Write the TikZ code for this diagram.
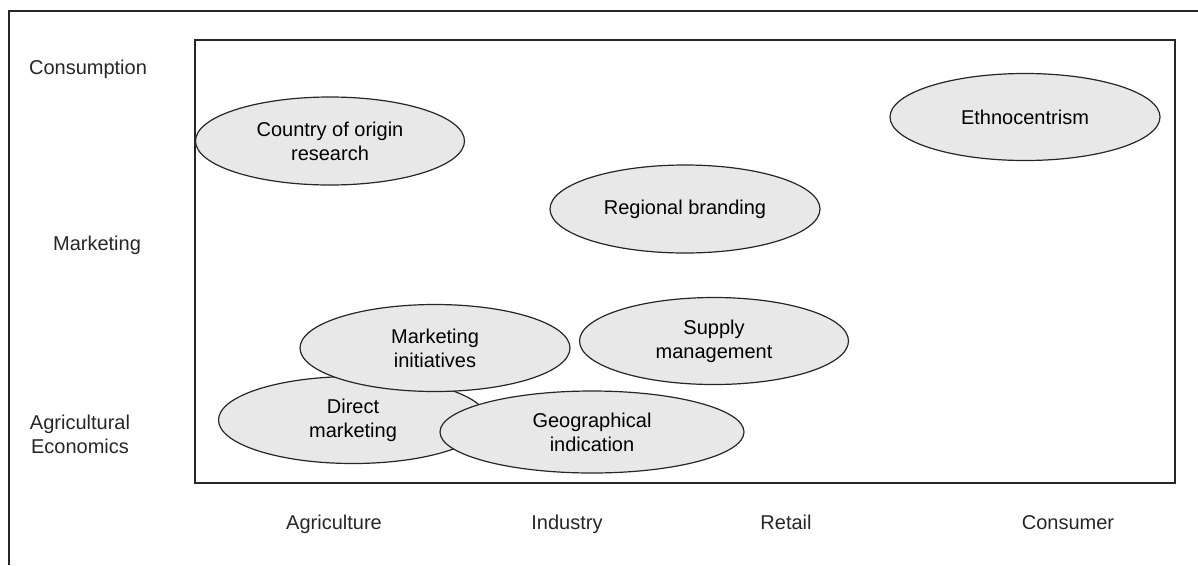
\documentclass[tikz,border=0pt]{standalone}
\usepackage{fontspec}
\setmainfont{Liberation Sans}
\usetikzlibrary{shapes.geometric}
\tikzset{
  blob/.style={ellipse, draw=black!85, fill=black!9, line width=0.9pt, inner sep=0pt, align=center, font=\fontsize{15}{18}\selectfont},
  lbl/.style={align=center, text=black!85, font=\fontsize{15}{18}\selectfont}
}
\begin{document}
\begin{tikzpicture}[x=0.75pt,y=-0.75pt]
\useasboundingbox (0,0) rectangle (1198,565);
\draw[line width=0.9pt, black!85] (9,565) -- (9,11) -- (1198,11);
\node[draw=black!85, line width=0.9pt, minimum width=735pt, minimum height=332.25pt, inner sep=0pt] (field) at (685,261.5){};
\node[lbl] (cons) at (88,69){Consumption};
\node[lbl] (mark) at (97,245){Marketing};
\node[lbl] (agec) at (80,434){Agricultural\\Economics};
\node[lbl, anchor=base] (agri) at (334,529){Agriculture};
\node[lbl, anchor=base] (indu) at (567,529){Industry};
\node[lbl, anchor=base] (reta) at (786,529){Retail};
\node[lbl, anchor=base] (cnsr) at (1068,529){Consumer};
\node[blob, minimum width=201.75pt, minimum height=66pt] (origin) at (330,141){Country of origin\\research};
\node[blob, minimum width=202.5pt, minimum height=65.25pt] (ethno) at (1025,117){Ethnocentrism};
\node[blob, minimum width=202.5pt, minimum height=66pt] (regional) at (685,209){Regional branding};
\node[blob, minimum width=201.75pt, minimum height=65.25pt] (supply) at (714,341){Supply\\management};
\node[blob, minimum width=201.75pt, minimum height=65.25pt] (direct) at (353,420){Direct\\marketing};
\node[blob, minimum width=202.5pt, minimum height=65.25pt] (mktinit) at (435,348){Marketing\\initiatives};
\node[blob, minimum width=228pt, minimum height=61.5pt] (geo) at (592,432){Geographical\\indication};
\end{tikzpicture}
\end{document}
